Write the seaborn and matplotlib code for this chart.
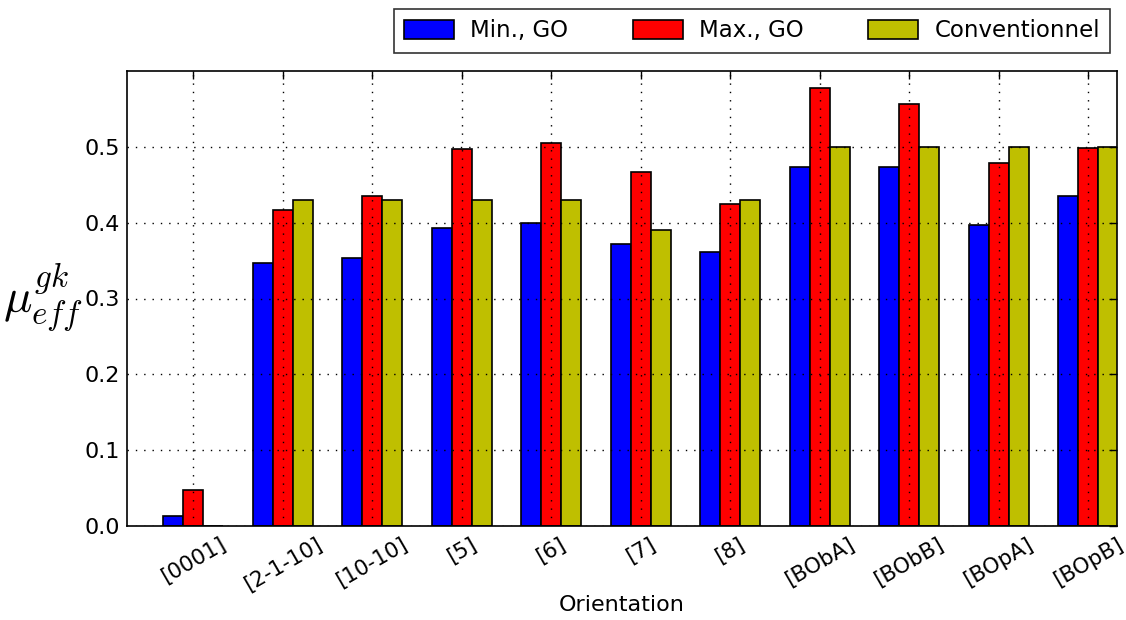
import pandas as pd
import matplotlib
matplotlib.use("Agg")
import matplotlib.pyplot as plt
import seaborn as sns

# Chart data
orientations = ["[0001]", "[2-1-10]", "[10-10]", "[5]", "[6]", "[7]", "[8]",
                "[BObA]", "[BObB]", "[BOpA]", "[BOpB]"]
min_go = [0.013, 0.347, 0.354, 0.393, 0.400, 0.372, 0.361, 0.474, 0.474, 0.397, 0.435]
max_go = [0.047, 0.417, 0.435, 0.497, 0.505, 0.467, 0.425, 0.577, 0.557, 0.479, 0.498]
conventionnel = [0.0, 0.43, 0.43, 0.43, 0.43, 0.39, 0.43, 0.50, 0.50, 0.50, 0.50]
series_names = ["Min., GO", "Max., GO", "Conventionnel"]
yticks = [0.0, 0.1, 0.2, 0.3, 0.4, 0.5]

# Long format for seaborn
df = pd.DataFrame({
    "Orientation": orientations * 3,
    "mu": min_go + max_go + conventionnel,
    "Serie": [series_names[0]] * 11 + [series_names[1]] * 11 + [series_names[2]] * 11,
})

sns.set_style("white")
plt.rcParams["font.family"] = ["DejaVu Sans"]
plt.rcParams["mathtext.fontset"] = "cm"
plt.rcParams["text.color"] = "black"
plt.rcParams["axes.labelcolor"] = "black"
plt.rcParams["xtick.color"] = "black"
plt.rcParams["ytick.color"] = "black"

fig = plt.figure(figsize=(11.26, 6.2), dpi=100)
ax = fig.add_axes([127 / 1126, 1 - 526 / 620, 990 / 1126, 455 / 620])

sns.barplot(data=df, x="Orientation", y="mu", hue="Serie",
            palette=["#0000ff", "#ff0000", "#bfbf00"],
            width=0.67, gap=0, edgecolor="black", linewidth=1.2,
            saturation=1, errorbar=None, ax=ax)

ax.set_xlim(-0.74, 10.32)
ax.set_ylim(0, 0.6)
ax.set_yticks(yticks)
ax.set_yticklabels([f"{v:.1f}" for v in yticks], fontsize=16)
ax.set_xticks(range(len(orientations)))
ax.set_xticklabels(orientations, fontsize=15.5, rotation=30, ha="center")

ax.grid(True, color="black", linestyle=(0, (1, 5)), linewidth=1.0)
ax.set_axisbelow(False)
ax.tick_params(direction="in", top=True, right=True, length=6, width=1)
ax.tick_params(axis="x", pad=6)
ax.tick_params(axis="y", pad=5)
for s in ax.spines.values():
    s.set_color("black")
    s.set_linewidth(1.2)

ax.set_xlabel("Orientation", fontsize=16)
ax.xaxis.set_label_coords(0.5, -0.152)
ax.set_ylabel(r"$\mu_{eff}^{gk}$", fontsize=34, rotation=0, va="center")
ax.yaxis.set_label_coords(-0.085, 0.5)

handles, labels = ax.get_legend_handles_labels()
ax.legend(handles, labels, ncol=3, loc="lower right", bbox_to_anchor=(0.993, 1.04),
          fontsize=16.5, frameon=True, fancybox=False, edgecolor="black",
          handlelength=2.2, handleheight=0.9, handletextpad=0.7,
          columnspacing=2.8, borderpad=0.45, borderaxespad=0)
ax.get_legend().get_frame().set_linewidth(1.2)

fig.savefig("out.png", dpi=100)
